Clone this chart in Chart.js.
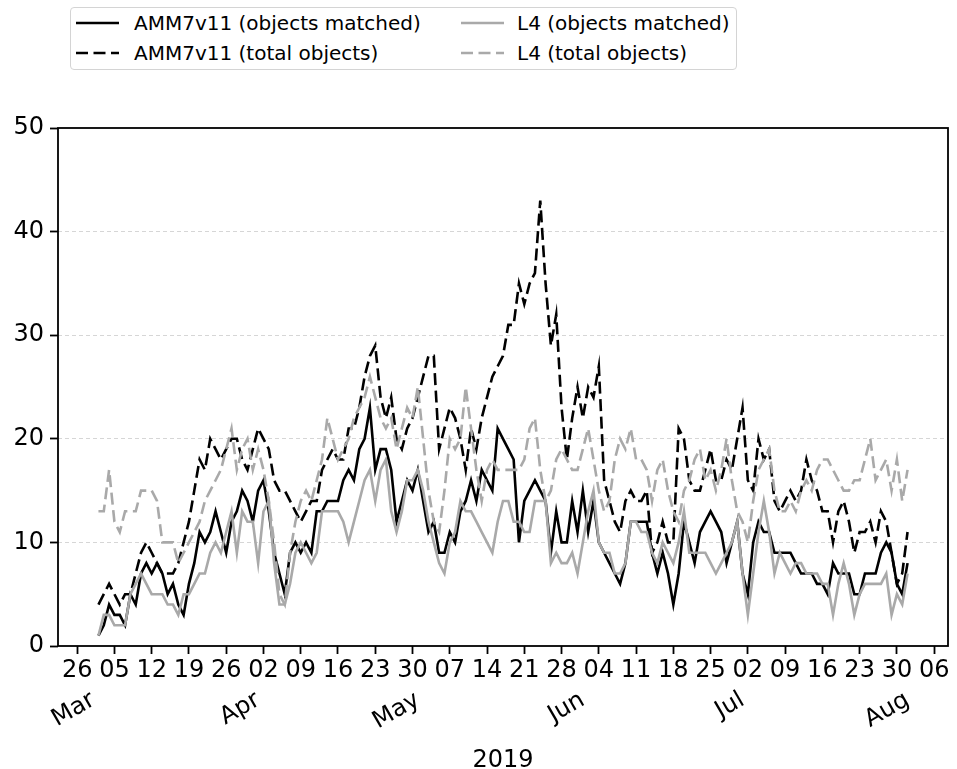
<!DOCTYPE html>
<html><head><meta charset="utf-8">
<script src="https://cdn.jsdelivr.net/npm/chart.js@4.4.0/dist/chart.umd.min.js"></script>
<style>
html,body{margin:0;padding:0;background:#fff;}
#wrap{position:relative;width:957px;height:769px;overflow:hidden;}
#c{position:absolute;left:0;top:0;}
#legend{position:absolute;left:70px;top:7px;width:667px;height:63px;border:1px solid #d4d4d4;border-radius:4px;box-sizing:border-box;font-family:"DejaVu Sans";font-size:20px;color:#000;background:#fff;}
.sw{position:absolute;width:43px;height:24px;}
.lt{position:absolute;height:24px;line-height:24px;white-space:nowrap;}
</style></head>
<body><div id="wrap"><canvas id="c" width="957" height="769"></canvas><div id="legend"></div></div>
<script>
// Day 0 = 2019-03-02; one value per day through 2019-08-01
const startDate = [2019, 2, 2];
const seriesNames = ['AMM7v11 (objects matched)', 'AMM7v11 (total objects)', 'L4 (objects matched)', 'L4 (total objects)'];
const amm7Matched = [
 1,2,4,3,3,2,5,4,7,8,
 7,8,7,5,6,4,3,6,8,11,
 10,11,13,11,9,12,13,15,14,12,
 15,16,13,9,7,5,9,10,9,10,
 9,13,13,14,14,14,16,17,16,19,
 20,23,17,19,19,17,12,14,16,15,
 17,14,11,12,9,9,11,10,13,14,
 16,14,17,16,15,21,20,19,18,10,
 14,15,16,15,14,9,13,10,10,14,
 11,15,11,14,10,9,8,7,6,8,
 12,12,12,12,9,7,9,7,4,7,
 12,10,8,11,12,13,12,11,8,10,
 12,7,5,10,12,11,11,9,9,9,
 9,8,7,7,7,6,6,5,8,7,
 7,7,5,5,7,7,7,9,10,9,
 6,5,8];
const amm7Total = [
 4,5,6,5,4,5,5,7,9,10,
 9,8,7,7,7,8,10,12,15,18,
 17,20,19,18,19,20,20,18,17,19,
 21,20,19,16,15,15,14,13,12,13,
 14,14,17,18,19,18,18,21,21,23,
 26,28,29,24,22,24,20,19,21,22,
 24,26,28,28,19,21,23,22,20,17,
 21,19,22,24,26,27,28,31,31,35,
 33,35,36,43,35,29,32,23,18,22,
 25,22,25,24,27,16,14,12,11,14,
 15,14,14,15,9,10,12,10,10,21,
 20,16,15,15,17,19,16,16,18,17,
 20,23,16,15,20,18,19,14,13,14,
 15,14,15,18,16,15,13,13,10,13,
 14,12,9,11,11,12,10,13,12,9,
 6,7,11];
const l4Matched = [
 1,3,3,2,2,2,5,6,7,6,
 5,5,5,4,4,3,5,5,6,7,
 7,9,10,9,11,13,9,13,12,12,
 8,13,14,8,4,4,6,9,10,9,
 8,9,13,13,13,13,12,10,12,14,
 16,17,14,17,18,13,11,13,16,16,
 17,15,12,10,8,7,10,11,14,13,
 13,12,11,10,9,12,14,14,12,12,
 11,11,14,14,14,8,9,8,8,9,
 7,10,13,15,10,9,9,7,7,8,
 12,12,11,11,9,8,10,9,8,10,
 13,9,9,9,9,8,7,8,9,10,
 12,7,3,7,11,14,11,7,9,8,
 7,8,8,7,7,7,6,6,3,6,
 8,6,3,5,6,6,6,6,7,3,
 5,4,7];
const l4Total = [
 13,13,17,12,11,13,13,13,15,15,
 15,14,10,10,10,8,9,10,11,12,
 14,15,16,17,19,21,17,19,20,17,
 19,17,14,10,5,4,9,12,14,15,
 14,16,18,22,20,18,19,20,22,23,
 24,26,24,22,21,22,19,21,23,22,
 25,20,15,12,11,15,20,19,20,25,
 21,17,14,17,18,17,17,17,17,17,
 18,21,22,17,14,15,18,19,18,17,
 17,19,21,18,15,13,14,18,20,19,
 21,18,18,17,14,17,18,15,13,12,
 15,16,18,19,16,17,15,17,20,16,
 13,12,10,14,17,18,19,15,13,13,
 14,13,15,16,15,17,18,18,17,16,
 15,15,16,16,18,20,16,17,18,15,
 18,14,17];
// tick positions in days from start, and their labels
const weekTickDays = [-4,3,10,17,24,31,38,45,52,59,66,73,80,87,94,101,108,115,122,129,136,143,150,157];
const weekTickLabels = ['26','05','12','19','26','02','09','16','23','30','07','14','21','28','04','11','18','25','02','09','16','23','30','06'];
const monthTickDays = [-1,30,60,91,121,152];
const monthTickLabels = ['Mar','Apr','May','Jun','Jul','Aug'];
const yTicks = [0,10,20,30,40,50];
const xLabel = '2019';

const FONT = 'DejaVu Sans';
const GRAY = '#a9a9a9';
const DASH = [12, 5.5];
const LW = 2.6;
const styles = [
  {color:'#000', dash:[]},
  {color:'#000', dash:DASH},
  {color:GRAY, dash:[]},
  {color:GRAY, dash:DASH}
];
const allSeries = [amm7Matched, amm7Total, l4Matched, l4Total];

// HTML legend (2 columns, column-major like the original)
const legend = document.getElementById('legend');
const pos = [[0,0],[1,0],[0,1],[1,1]]; // [row, col]
seriesNames.forEach((name, i) => {
  const [r, c] = pos[i];
  const top = r === 0 ? 3 : 33;
  const sl = c === 0 ? 5 : 390;
  const tl = c === 0 ? 63 : 446;
  const st = styles[i];
  const sw = document.createElementNS('http://www.w3.org/2000/svg','svg');
  sw.setAttribute('class','sw'); sw.setAttribute('width','43'); sw.setAttribute('height','24');
  sw.style.left = sl + 'px'; sw.style.top = top + 'px';
  const ln = document.createElementNS('http://www.w3.org/2000/svg','line');
  ln.setAttribute('x1','0'); ln.setAttribute('x2','43'); ln.setAttribute('y1','12'); ln.setAttribute('y2','12');
  ln.setAttribute('stroke', st.color); ln.setAttribute('stroke-width', LW);
  if (st.dash.length) ln.setAttribute('stroke-dasharray', st.dash.join(' '));
  sw.appendChild(ln);
  legend.appendChild(sw);
  const t = document.createElement('div');
  t.className = 'lt'; t.textContent = name;
  t.style.left = tl + 'px'; t.style.top = top + 'px';
  legend.appendChild(t);
});

const datasets = allSeries.map((arr, i) => ({
  label: seriesNames[i],
  data: arr.map((v, d) => ({x: d, y: v})),
  borderColor: styles[i].color,
  borderDash: styles[i].dash,
  borderWidth: LW,
  pointRadius: 0,
  fill: false,
  tension: 0,
  order: 3 - i
}));

const framePlugin = {
  id: 'frame',
  afterDatasetsDraw(chart) {
    const {ctx, chartArea: a} = chart;
    ctx.save();
    ctx.setLineDash([]);
    ctx.lineWidth = 1.8;
    ctx.strokeStyle = '#000';
    ctx.strokeRect(a.left, a.top, a.right - a.left, a.bottom - a.top);
    ctx.restore();
  }
};

new Chart(document.getElementById('c'), {
  type: 'line',
  data: {datasets},
  plugins: [framePlugin],
  options: {
    responsive: false,
    animation: false,
    devicePixelRatio: 1,
    layout: {padding: {top: 128, right: 9, left: 0, bottom: 0}},
    plugins: {legend: {display: false}, tooltip: {enabled: false}},
    scales: {
      x: {
        type: 'linear', position: 'bottom', min: -7.6, max: 159.6, weight: 0,
        afterBuildTicks: s => { s.ticks = weekTickDays.map(v => ({value: v})); },
        afterFit: s => { s.height = 40; },
        ticks: {autoSkip: false, minRotation: 0, maxRotation: 0, padding: 2, color: '#000',
          font: {family: FONT, size: 24},
          callback: v => weekTickLabels[weekTickDays.indexOf(v)]},
        grid: {drawOnChartArea: false, tickLength: 8, tickWidth: 1.8, tickColor: '#000'},
        border: {display: false}
      },
      xm: {
        type: 'linear', position: 'bottom', min: -7.6, max: 159.6, weight: 1,
        afterBuildTicks: s => { s.ticks = monthTickDays.map(v => ({value: v})); },
        afterFit: s => { s.height = 83; },
        ticks: {autoSkip: false, minRotation: 30, maxRotation: 30, padding: 0, color: '#000',
          font: {family: FONT, size: 24},
          callback: v => monthTickLabels[monthTickDays.indexOf(v)]},
        grid: {display: false, drawTicks: false},
        border: {display: false},
        title: {display: true, text: xLabel, color: '#000', font: {family: FONT, size: 24}, padding: {top: 0, bottom: -6}}
      },
      y: {
        type: 'linear', min: 0, max: 50,
        afterBuildTicks: s => { s.ticks = yTicks.map(v => ({value: v})); },
        afterFit: s => { s.width = 58; },
        ticks: {padding: 6, color: '#000', font: {family: FONT, size: 24}},
        grid: {
          color: c => (c.tick && (c.tick.value === 0 || c.tick.value === 50)) ? 'rgba(0,0,0,0)' : '#d6d6d6',
          lineWidth: 1, tickLength: 8, tickWidth: 1.8, tickColor: '#000', tickBorderDash: []
        },
        border: {display: false, dash: [4, 3]}
      }
    }
  }
});
</script></body></html>
